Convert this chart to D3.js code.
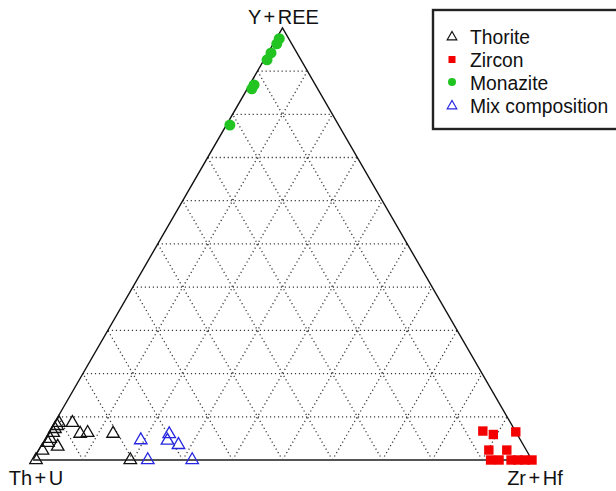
<!DOCTYPE html>
<html>
<head>
<meta charset="utf-8">
<script src="https://cdn.jsdelivr.net/npm/d3@7"></script>
<style>
  html, body { margin: 0; padding: 0; background: #fff; }
  svg { display: block; font-family: "Liberation Sans", Arial, sans-serif; }
</style>
</head>
<body>
<svg id="chart" width="616" height="491"></svg>
<script>
// Compositions in percent: [Th+U, Y+REE, Zr+Hf]
const thorite = [
  [99.4, 0.0, 0.6], [97.0, 2.2, 0.8], [95.0, 4.0, 1.0], [94.1, 4.9, 1.0],
  [92.8, 6.3, 0.9], [92.0, 7.2, 0.8], [91.2, 7.9, 0.9], [90.5, 8.6, 0.9],
  [93.5, 3.1, 3.4], [87.8, 8.6, 3.6], [87.5, 6.1, 6.4], [85.9, 6.3, 7.8],
  [80.9, 6.1, 13.0], [80.5, 0.0, 19.5]
];
const zircon = [
  [6.5, 6.7, 86.8], [4.8, 5.9, 89.3], [0.0, 6.5, 93.5], [7.5, 2.3, 90.2],
  [3.9, 2.3, 93.8], [8.3, 0.0, 91.7], [6.6, 0.0, 93.4], [4.2, 0.0, 95.8],
  [2.8, 0.0, 97.2], [1.4, 0.0, 98.6], [0.0, 0.0, 100.0]
];
const monazite = [
  [1.9, 97.5, 0.6], [3.0, 96.3, 0.7], [5.2, 94.2, 0.6], [6.8, 92.6, 0.6],
  [12.3, 86.8, 0.9], [13.2, 85.9, 0.9], [21.8, 77.5, 0.7]
];
const mixComposition = [
  [76.1, 4.6, 19.3], [69.7, 6.0, 24.3], [70.8, 4.5, 24.7],
  [69.1, 3.5, 27.4], [77.0, 0.0, 23.0], [68.1, 0.0, 31.9]
];
const apexLabels = ["Th + U", "Y + REE", "Zr + Hf"];
const gridSteps = [10, 20, 30, 40, 50, 60, 70, 80, 90];
const legendNames = ["Thorite", "Zircon", "Monazite", "Mix composition"];

const svg = d3.select("#chart");

// Ternary layout: horizontal position from Zr+Hf plus half of Y+REE, vertical from Y+REE
const left = 33, right = 532, base = 460;
const side = right - left;
const height = side * Math.sqrt(3) / 2;
const xScale = d3.scaleLinear().domain([0, 100]).range([left, right]);
const yScale = d3.scaleLinear().domain([0, 100]).range([base, base - height]);
const project = ([a, b, c]) => [xScale(c + b / 2), yScale(b)];

const line = d3.line();

// Dotted grid at every 10 %
const grid = svg.append("g")
  .attr("fill", "none")
  .attr("stroke", "#3a3a3a")
  .attr("stroke-width", 1.3)
  .attr("stroke-dasharray", "1.2,2.8");
gridSteps.forEach(v => {
  const r = 100 - v;
  // constant Y+REE
  grid.append("path").attr("d", line([project([r, v, 0]), project([0, v, r])]));
  // constant Zr+Hf
  grid.append("path").attr("d", line([project([r, 0, v]), project([0, r, v])]));
  // constant Th+U
  grid.append("path").attr("d", line([project([v, 0, r]), project([v, r, 0])]));
});

// Triangle frame
const pL = project([100, 0, 0]), pT = project([0, 100, 0]), pR = project([0, 0, 100]);
svg.append("path")
  .attr("d", line([pL, pT, pR]))
  .attr("fill", "none").attr("stroke", "#111").attr("stroke-width", 1.4);
svg.append("path")
  .attr("d", line([pL, pR]))
  .attr("fill", "none").attr("stroke", "#555").attr("stroke-width", 2);

// Apex labels
svg.append("text").attr("x", pT[0] + 1).attr("y", pT[1] - 4)
  .attr("text-anchor", "middle").attr("font-size", 20).attr("word-spacing", -3)
  .attr("fill", "#111").text(apexLabels[1]);
svg.append("text").attr("x", pL[0] + 3).attr("y", pL[1] + 25)
  .attr("text-anchor", "middle").attr("font-size", 20).attr("word-spacing", -3)
  .attr("fill", "#111").text(apexLabels[0]);
svg.append("text").attr("x", pR[0] + 3).attr("y", pR[1] + 25)
  .attr("text-anchor", "middle").attr("font-size", 20).attr("word-spacing", -3)
  .attr("fill", "#111").text(apexLabels[2]);

// Marker shapes
const triBig = d3.symbol().type(d3.symbolTriangle).size(68)();
const triSmall = d3.symbol().type(d3.symbolTriangle).size(40)();

// Zircon squares
svg.append("g").selectAll("rect").data(zircon).join("rect")
  .attr("x", d => project(d)[0] - 4.7)
  .attr("y", d => project(d)[1] - 4.7)
  .attr("width", 9.4).attr("height", 9.4)
  .attr("fill", "#f40000");

// Monazite circles
svg.append("g").selectAll("circle").data(monazite).join("circle")
  .attr("cx", d => project(d)[0])
  .attr("cy", d => project(d)[1])
  .attr("r", 5.5)
  .attr("fill", "#22c422");

// Thorite open triangles
svg.append("g").selectAll("path").data(thorite).join("path")
  .attr("d", triBig)
  .attr("transform", d => `translate(${project(d)})`)
  .attr("fill", "none").attr("stroke", "#111").attr("stroke-width", 1.3);

// Mixed composition open triangles
svg.append("g").selectAll("path").data(mixComposition).join("path")
  .attr("d", triBig)
  .attr("transform", d => `translate(${project(d)})`)
  .attr("fill", "none").attr("stroke", "#2626e0").attr("stroke-width", 1.3);

// Legend
const legend = svg.append("g");
legend.append("rect")
  .attr("x", 433).attr("y", 10).attr("width", 200).attr("height", 119)
  .attr("fill", "#fff").attr("stroke", "#222").attr("stroke-width", 2.4);
const legendY = [44, 67, 90, 113];
const mx = 452, tx = 470;
legend.append("path").attr("d", triSmall)
  .attr("transform", `translate(${mx},${legendY[0] - 7})`)
  .attr("fill", "none").attr("stroke", "#111").attr("stroke-width", 1.2);
legend.append("rect").attr("x", mx - 3.5).attr("y", legendY[1] - 11).attr("width", 7).attr("height", 7)
  .attr("fill", "#f40000");
legend.append("circle").attr("cx", mx).attr("cy", legendY[2] - 8).attr("r", 4)
  .attr("fill", "#22c422");
legend.append("path").attr("d", triSmall)
  .attr("transform", `translate(${mx},${legendY[3] - 7})`)
  .attr("fill", "none").attr("stroke", "#2626e0").attr("stroke-width", 1.2);
legend.selectAll("text.item").data(legendNames).join("text")
  .attr("class", "item")
  .attr("x", tx).attr("y", (d, i) => legendY[i])
  .attr("font-size", 19.3).attr("fill", "#111")
  .text(d => d);
</script>
</body>
</html>
